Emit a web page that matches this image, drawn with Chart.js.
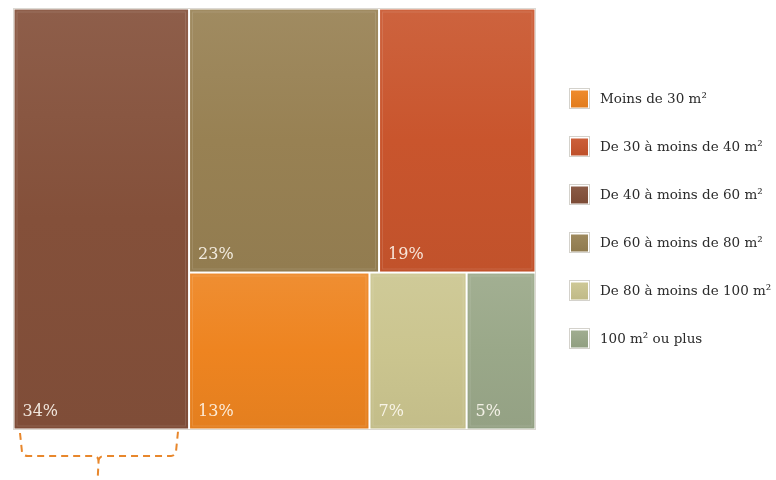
<!DOCTYPE html>
<html lang="fr">
<head>
<meta charset="utf-8">
<title>Répartition des logements par surface</title>
<script src="https://cdn.jsdelivr.net/npm/chart.js@4.4.1/dist/chart.umd.min.js"></script>
<style>
  html, body { margin: 0; padding: 0; background: #ffffff; }
  #wrap { width: 776px; height: 480px; position: relative; }
</style>
</head>
<body>
<div id="wrap"><canvas id="chart" width="776" height="480"></canvas></div>
<script>
// Surface classes and their share of dwellings (%)
const categories = [
  'Moins de 30 m²',
  'De 30 à moins de 40 m²',
  'De 40 à moins de 60 m²',
  'De 60 à moins de 80 m²',
  'De 80 à moins de 100 m²',
  '100 m² ou plus'
];
const shares = [13, 19, 34, 23, 7, 5];
const colors = ['#ee8420', '#c9552d', '#84503a', '#988153', '#cbc58f', '#9aa889'];

// Tile arrangement (indices into categories): one full-height column, then two rows
const leftColumn = [2];
const topRow = [3, 1];
const bottomRow = [0, 4, 5];

const sum = a => a.reduce((s, i) => s + shares[i], 0);
const total = shares.reduce((s, v) => s + v, 0);
const Y_MAX = 100;

// Build tile rectangles in data units (x: 0..total, y: 0..Y_MAX)
function buildTiles() {
  const tiles = [];
  const colW = sum(leftColumn);
  let y = Y_MAX;
  leftColumn.forEach(i => {
    const h = shares[i] / colW * Y_MAX;
    tiles.push({ i, x0: 0, x1: colW, y0: y - h, y1: y });
    y -= h;
  });
  const restW = total - colW;
  const topSum = sum(topRow), botSum = sum(bottomRow);
  const split = botSum / (topSum + botSum) * Y_MAX;
  let x = colW;
  topRow.forEach(i => {
    const w = shares[i] / topSum * restW;
    tiles.push({ i, x0: x, x1: x + w, y0: split, y1: Y_MAX });
    x += w;
  });
  x = colW;
  bottomRow.forEach(i => {
    const w = shares[i] / botSum * restW;
    tiles.push({ i, x0: x, x1: x + w, y0: 0, y1: split });
    x += w;
  });
  return tiles;
}
const tiles = buildTiles();

function shade(hex, amt) {
  const n = parseInt(hex.slice(1), 16);
  let r = (n >> 16) & 255, g = (n >> 8) & 255, b = n & 255;
  const f = c => Math.max(0, Math.min(255, Math.round(amt > 0 ? c + (255 - c) * amt : c * (1 + amt))));
  return `rgb(${f(r)},${f(g)},${f(b)})`;
}

const treemapPlugin = {
  id: 'treemapTiles',
  beforeDatasetsDraw(chart) {
    const { ctx, chartArea: ca, scales: { x: sx, y: sy } } = chart;
    ctx.save();
    // outer frame
    ctx.strokeStyle = '#dcd9d3';
    ctx.lineWidth = 1;
    ctx.strokeRect(ca.left + 0.5, ca.top + 0.5, ca.right - ca.left - 1, ca.bottom - ca.top - 1);

    chart.data.datasets.forEach((ds, k) => {
      const t = ds.tile;
      const inset = 1;
      const L = sx.getPixelForValue(t.x0) + inset + (t.x0 === 0 ? 0.5 : 0);
      const R = sx.getPixelForValue(t.x1) - inset - (t.x1 >= total ? 0.5 : 0);
      const T = sy.getPixelForValue(t.y1) + inset + (t.y1 >= Y_MAX ? 0.5 : 0);
      const B = sy.getPixelForValue(t.y0) - inset - (t.y0 === 0 ? 0.5 : 0);
      const base = colors[t.i];
      const g = ctx.createLinearGradient(0, T, 0, B);
      g.addColorStop(0, shade(base, 0.08));
      g.addColorStop(0.5, base);
      g.addColorStop(1, shade(base, -0.04));
      ctx.fillStyle = g;
      ctx.fillRect(L, T, R - L, B - T);
      // soft inner highlight
      ctx.strokeStyle = 'rgba(255,255,255,0.12)';
      ctx.strokeRect(L + 2.5, T + 2.5, R - L - 5, B - T - 5);

      ctx.fillStyle = 'rgba(255,250,242,0.88)';
      ctx.font = '16px "DejaVu Serif", serif';
      ctx.textAlign = 'left';
      ctx.textBaseline = 'alphabetic';
      ctx.fillText(shares[t.i] + '%', L + 8, B - 13);
    });

    // dashed brace under the first column
    const first = chart.data.datasets[0].tile;
    const bl = sx.getPixelForValue(first.x0) + 7;
    const br = sx.getPixelForValue(first.x1) - 12;
    const by = ca.bottom + 26;
    const mid = (bl + br) / 2 + 1;
    ctx.strokeStyle = '#e8872c';
    ctx.lineWidth = 2;
    ctx.setLineDash([7, 5]);
    ctx.beginPath();
    ctx.moveTo(bl, ca.bottom + 3);
    ctx.lineTo(bl + 2, by - 4);
    ctx.quadraticCurveTo(bl + 3, by, bl + 8, by);
    ctx.lineTo(mid - 5, by);
    ctx.quadraticCurveTo(mid - 1, by, mid - 1, by + 6);
    ctx.lineTo(mid - 2, 482);
    ctx.moveTo(mid - 1, by + 6);
    ctx.quadraticCurveTo(mid - 1, by, mid + 5, by);
    ctx.lineTo(br - 6, by);
    ctx.quadraticCurveTo(br - 2, by, br - 1, by - 5);
    ctx.lineTo(br + 1, ca.bottom + 1);
    ctx.stroke();
    ctx.setLineDash([]);
    ctx.restore();
  },
  afterDraw(chart) {
    // legend on the right
    const { ctx } = chart;
    ctx.save();
    const x = 569, y0 = 98.5, step = 48;
    categories.forEach((label, i) => {
      const cy = y0 + i * step;
      ctx.fillStyle = '#ffffff';
      ctx.fillRect(x, cy - 10.5, 21, 21);
      ctx.strokeStyle = '#d4d2cc';
      ctx.lineWidth = 1;
      ctx.strokeRect(x + 0.5, cy - 10, 20, 20);
      const g = ctx.createLinearGradient(0, cy - 8, 0, cy + 8);
      g.addColorStop(0, shade(colors[i], 0.06));
      g.addColorStop(1, shade(colors[i], -0.05));
      ctx.fillStyle = g;
      ctx.fillRect(x + 2, cy - 8, 17, 17);
      ctx.fillStyle = '#2b2b2b';
      ctx.font = '13.5px "DejaVu Serif", serif';
      ctx.textAlign = 'left';
      ctx.textBaseline = 'middle';
      ctx.fillText(label, 600, cy + 1);
    });
    ctx.restore();
  }
};

const datasets = tiles.map(t => ({
  label: categories[t.i],
  tile: t,
  data: [{ x: (t.x0 + t.x1) / 2, y: (t.y0 + t.y1) / 2 }],
  pointRadius: 0,
  pointHoverRadius: 0,
  backgroundColor: colors[t.i]
}));

new Chart(document.getElementById('chart'), {
  type: 'scatter',
  data: { datasets },
  options: {
    responsive: false,
    animation: false,
    layout: { padding: { left: 13, right: 240, top: 8, bottom: 50 } },
    scales: {
      x: { type: 'linear', min: 0, max: total, display: false },
      y: { type: 'linear', min: 0, max: Y_MAX, display: false }
    },
    plugins: {
      legend: { display: false },
      tooltip: { enabled: false },
      title: { display: false }
    }
  },
  plugins: [treemapPlugin]
});
</script>
</body>
</html>
